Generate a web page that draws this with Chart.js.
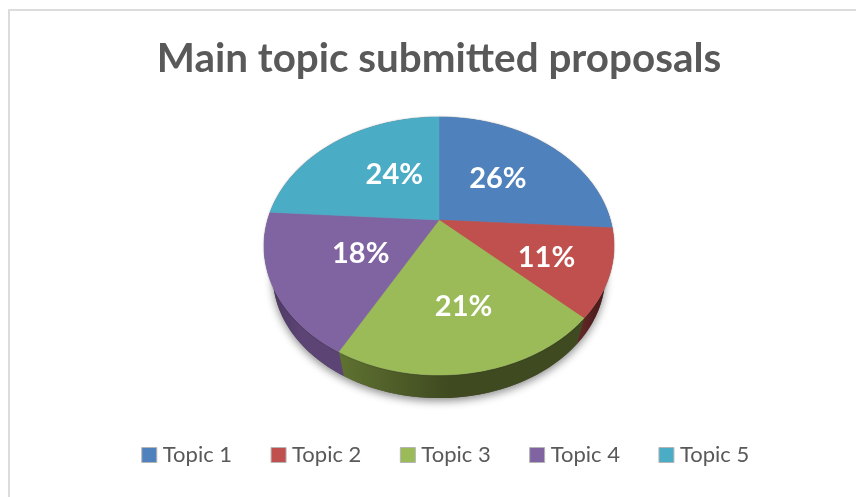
<!DOCTYPE html>
<html lang="en">

<head>
    <meta charset="UTF-8">
    <title>Main topic submitted proposals</title>
    <script src="https://cdn.jsdelivr.net/npm/chart.js@4"></script>
    <style>
        html, body { margin: 0; background: #fff; overflow: hidden; }
        /* the frame runs off the right and bottom of the window */
        .frame { position: absolute; left: 8px; top: 9px; width: 900px; height: 560px; border: 2px solid #dcdcdc; }
        #grafico { position: absolute; left: 0; top: 0; }
    </style>
</head>

<body>
    <div class="frame"></div>
    <canvas id="grafico" width="856" height="497"></canvas>

    <script>
        const titulo = "Main topic submitted proposals";
        const topicos = ["Topic 1", "Topic 2", "Topic 3", "Topic 4", "Topic 5"];
        const valores = [26, 11, 21, 18, 24];

        const coresTopo = ["#4f81bd", "#c0504d", "#9bbb59", "#8064a2", "#4bacc6"];
        const coresLateral = [
            ["#2f4d71", "#2f4d71"],
            ["#5e2624", "#4e1d1c"],
            ["#5f7231", "#3f4a20"],
            ["#4d3963", "#5c4474"],
            ["#2d6776", "#2d6776"]
        ];
        // ajuste fino dos rótulos em relação ao meio da fatia
        const ajusteRotulos = [[-5, 2], [17, 9], [8, 11], [9, -1], [15, 1]];

        // perspectiva do disco: o centro da pizza não cai no centro da elipse
        const centroY = 220, raioX = 171.4, raioY = 123.8, fuga = 0.2016;
        const encolheBase = 0.95, baseY = 250.8;

        function projetar(cx, angulo, r, base) {
            const u = Math.cos(angulo) * r, v = Math.sin(angulo) * r;
            const w = 1 - fuga * v;
            const s = base ? encolheBase : 1;
            return { x: cx + s * raioX * u / w, y: (base ? baseY : centroY) + s * raioY * v / w };
        }

        function tracarBorda(ctx, cx, a, b, base, inicio) {
            const passos = Math.max(2, Math.ceil(Math.abs(b - a) * 40));
            for (let i = 0; i <= passos; i++) {
                const p = projetar(cx, a + (b - a) * i / passos, 1, base);
                if (i == 0 && inicio) ctx.moveTo(p.x, p.y);
                else ctx.lineTo(p.x, p.y);
            }
        }

        // o Chart.js só faz pizza plana, então as fatias calculadas por ele são redesenhadas em 3D
        const pizza3d = {
            id: "pizza3d",
            afterLayout(chart) {
                // a legenda conta o padding do último item ao centralizar
                chart.legend.left += 9;
                chart.legend.right += 9;
            },
            beforeDatasetDraw(chart, args) {
                const ctx = chart.ctx;
                const arcos = args.meta.data;
                const cx = arcos[0].x;

                // sombra debaixo do disco
                ctx.save();
                ctx.shadowColor = "rgba(0,0,0,0.45)";
                ctx.shadowBlur = 9;
                ctx.shadowOffsetY = 3;
                ctx.fillStyle = "#555";
                ctx.beginPath();
                tracarBorda(ctx, cx, 0, Math.PI * 2, true, true);
                ctx.fill();
                ctx.restore();

                // lateral
                arcos.forEach(function (arco, i) {
                    const a = arco.startAngle, b = arco.endAngle;
                    const p0 = projetar(cx, a, 1, false), p1 = projetar(cx, b, 1, false);
                    const grad = ctx.createLinearGradient(p1.x, 0, p0.x, 0);
                    grad.addColorStop(0, coresLateral[i][0]);
                    grad.addColorStop(0.45, coresLateral[i][1]);
                    grad.addColorStop(1, coresLateral[i][1]);
                    ctx.fillStyle = grad;
                    ctx.beginPath();
                    tracarBorda(ctx, cx, a, b, false, true);
                    tracarBorda(ctx, cx, b, a, true, false);
                    ctx.closePath();
                    ctx.fill();
                });

                // halo fino em volta do topo
                ctx.save();
                ctx.shadowColor = "rgba(0,0,0,0.4)";
                ctx.shadowBlur = 2;
                ctx.fillStyle = "#999";
                ctx.beginPath();
                tracarBorda(ctx, cx, 0, Math.PI, false, true);
                tracarBorda(ctx, cx, Math.PI, Math.PI * 2, false, false);
                ctx.fill();
                ctx.restore();

                // topo
                arcos.forEach(function (arco, i) {
                    const centro = projetar(cx, 0, 0, false);
                    ctx.fillStyle = coresTopo[i];
                    ctx.strokeStyle = coresTopo[i];
                    ctx.lineWidth = 0.5;
                    ctx.beginPath();
                    ctx.moveTo(centro.x, centro.y);
                    tracarBorda(ctx, cx, arco.startAngle, arco.endAngle, false, false);
                    ctx.closePath();
                    ctx.fill();
                    ctx.stroke();
                });

                // rótulos de porcentagem
                ctx.fillStyle = "#fff";
                ctx.font = "bold 29px Lato";
                ctx.textAlign = "center";
                ctx.textBaseline = "middle";
                arcos.forEach(function (arco, i) {
                    const p = projetar(cx, (arco.startAngle + arco.endAngle) / 2, 0.55, false);
                    ctx.fillText(valores[i] + "%", p.x + ajusteRotulos[i][0], p.y + ajusteRotulos[i][1]);
                });

                return false;
            }
        };

        new Chart(document.getElementById("grafico"), {
            type: "pie",
            data: {
                labels: topicos,
                datasets: [{
                    data: valores,
                    backgroundColor: coresTopo,
                    borderColor: "#b5b5b5",
                    borderWidth: 1
                }]
            },
            options: {
                responsive: false,
                animation: false,
                events: [],
                layout: { padding: { left: 22, bottom: 21 } },
                plugins: {
                    tooltip: { enabled: false },
                    title: {
                        display: true,
                        text: titulo,
                        color: "#595959",
                        font: { family: "Lato", size: 40.4, weight: "bold" },
                        padding: { top: 35, bottom: 10 }
                    },
                    legend: {
                        position: "bottom",
                        labels: {
                            color: "#595959",
                            font: { family: "Lato", size: 22 },
                            // boxWidth estreito com pointStyle aproxima o texto do quadrado
                            usePointStyle: true,
                            pointStyle: "rect",
                            boxWidth: 5,
                            boxHeight: 15,
                            padding: 44
                        }
                    }
                }
            },
            plugins: [pizza3d]
        });
    </script>
</body>

</html>
